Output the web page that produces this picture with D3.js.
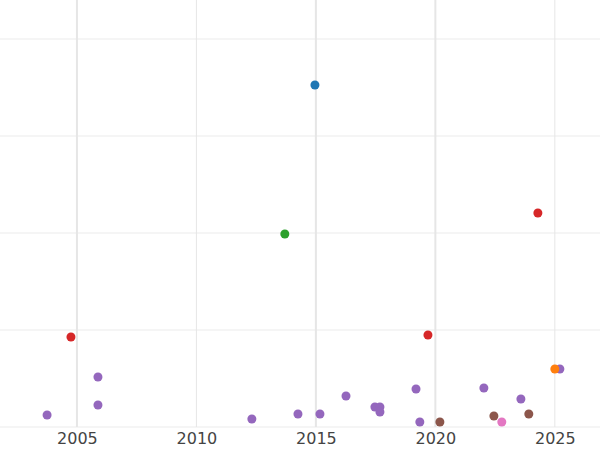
<!DOCTYPE html>
<html><head><meta charset="utf-8">
<script src="https://cdn.jsdelivr.net/npm/d3@7"></script>
<style>body{margin:0;background:#fff}</style></head>
<body><svg id="c" width="600" height="450"></svg>
<script>
const years = [2003.75,2005.88,2005.88,2012.32,2014.25,2015.17,2016.26,2017.47,2017.68,2017.68,2019.19,2019.35,2022.03,2023.58,2025.21,
  2004.75,2019.69,2024.29, 2014.96, 2013.70, 2025.0, 2020.19,2022.45,2023.91, 2022.78];
const values = [0.124,0.515,0.227,0.082,0.134,0.134,0.32,0.206,0.206,0.155,0.392,0.052,0.402,0.289,0.598,
  0.928,0.948,2.206, 3.526, 1.99, 0.598, 0.052,0.113,0.134, 0.052];
const groups = [4,4,4,4,4,4,4,4,4,4,4,4,4,4,4, 3,3,3, 0, 2, 1, 5,5,5, 6];
const palette = ["#1f77b4","#ff7f0e","#2ca02c","#d62728","#9467bd","#8c564b","#e377c2"];
const xTicks = [2005,2010,2015,2020,2025];
const yGrid = [0,1,2,3,4];

const svg = d3.select("#c");
const x = d3.scaleLinear().domain([2001.78, 2026.89]).range([0,600]);
const y = d3.scaleLinear().domain([0,4]).range([427,39]);

svg.selectAll(".hg").data(yGrid).enter().append("line")
  .attr("x1",0).attr("x2",600).attr("y1",d=>y(d)).attr("y2",d=>y(d))
  .attr("stroke","#ebebeb").attr("stroke-width",1);
svg.selectAll(".vg").data(xTicks).enter().append("line")
  .attr("x1",d=>x(d)).attr("x2",d=>x(d)).attr("y1",0).attr("y2",427)
  .attr("stroke","#e6e6e6").attr("stroke-width",d=>(d===2010||d===2025)?1:2);

const ax = svg.append("g").attr("transform","translate(0,427)")
  .call(d3.axisBottom(x).tickValues(xTicks).tickFormat(d3.format("d")).tickSize(0).tickPadding(6));
ax.select(".domain").remove();
ax.selectAll("text").attr("font-family","DejaVu Sans").attr("font-size",16).attr("fill","#444");

svg.selectAll("circle").data(years).enter().append("circle")
  .attr("cx",(d)=>x(d)).attr("cy",(d,i)=>y(values[i])).attr("r",4.5)
  .attr("fill",(d,i)=>palette[groups[i]]);
</script></body></html>
